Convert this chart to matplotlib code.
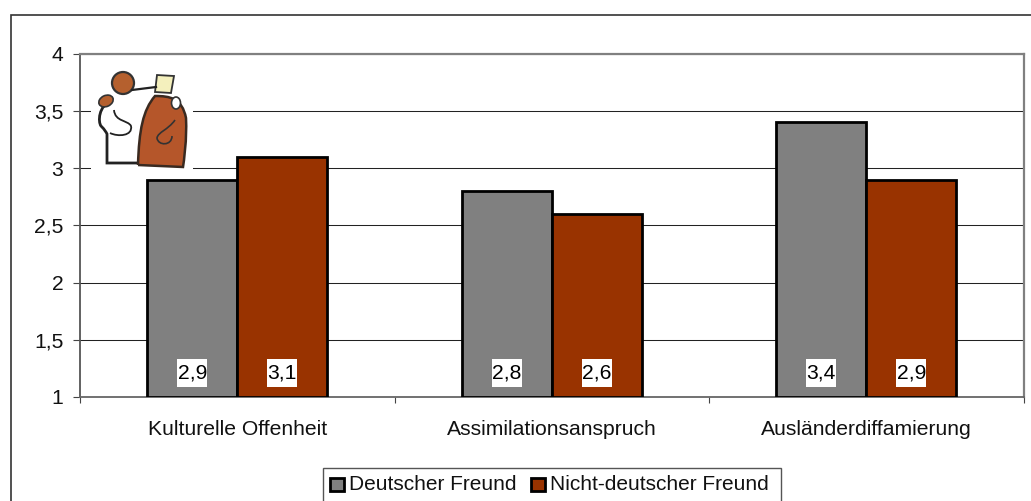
import matplotlib
matplotlib.use("Agg")
import matplotlib.pyplot as plt
from matplotlib.patches import Polygon, Circle, Rectangle, Ellipse, PathPatch
from matplotlib.path import Path

categories = ["Kulturelle Offenheit", "Assimilationsanspruch", "Ausländerdiffamierung"]
series_names = ["Deutscher Freund", "Nicht-deutscher Freund"]
deutscher = [2.9, 2.8, 3.4]
nicht_deutscher = [3.1, 2.6, 2.9]
y_ticks = [1, 1.5, 2, 2.5, 3, 3.5, 4]
y_labels = ["1", "1,5", "2", "2,5", "3", "3,5", "4"]

W, H = 1031, 501
plt.rcParams['font.family'] = ['Liberation Sans', 'DejaVu Sans']
fig = plt.figure(figsize=(W/100, H/100), dpi=100)
FS = 15.2

bg = fig.add_axes([0, 0, 1, 1], zorder=0)
bg.set_xlim(0, W); bg.set_ylim(H, 0); bg.axis('off')
bg.plot([10.5, 10.5, W], [H, 14.8, 14.8], color='#333333', lw=1.2, solid_joinstyle='miter')

L, R, T, B = 80.0, 1023.5, 53.8, 396.9
ax = fig.add_axes([L/W, 1-B/H, (R-L)/W, (B-T)/H], zorder=1)
ax.patch.set_alpha(0)
ax.set_xlim(0, 3)
ax.set_ylim(1, 4)
bw = 90/314.5
xs = [i + 0.5 for i in range(3)]
ax.yaxis.grid(True, color='#222222', lw=0.75)
ax.set_axisbelow(True)
ax.bar([x - bw/2 for x in xs], [v - 1 for v in deutscher], bw, bottom=1,
       color='#808080', edgecolor='black', lw=2.0, label=series_names[0], zorder=3)
ax.bar([x + bw/2 for x in xs], [v - 1 for v in nicht_deutscher], bw, bottom=1,
       color='#993300', edgecolor='black', lw=2.0, label=series_names[1], zorder=3)
box_w, box_h = 30/314.5, 28/114.4
for x, a, b in zip(xs, deutscher, nicht_deutscher):
    for off, v in ((-bw/2, a), (bw/2, b)):
        ax.add_patch(Rectangle((x + off - box_w/2, 1.205 - box_h/2), box_w, box_h,
                               fc='white', ec='none', zorder=4))
        ax.text(x + off, 1.205, f"{v:.1f}".replace('.', ','), ha='center', va='center',
                fontsize=FS, color='black', zorder=5)
ax.set_yticks(y_ticks); ax.set_yticklabels(y_labels, fontsize=FS, color='#111111')
ax.set_xticks([0, 1, 2, 3]); ax.set_xticklabels([])
ax.set_xticks(xs, minor=True); ax.set_xticklabels(categories, minor=True, fontsize=FS, color='#111111')
ax.tick_params(axis='x', which='minor', length=0, pad=16.5)
ax.tick_params(axis='x', which='major', length=4.5, width=0.8, color='#444444')
ax.tick_params(axis='y', length=5, width=0.8, color='#444444', pad=7)
ax.spines['left'].set_color('#555555'); ax.spines['left'].set_linewidth(1.3)
ax.spines['bottom'].set_color('#666666'); ax.spines['bottom'].set_linewidth(1.3)
ax.spines['top'].set_color('#808080'); ax.spines['top'].set_linewidth(1.6)
ax.spines['right'].set_color('#808080'); ax.spines['right'].set_linewidth(1.6)

ov = fig.add_axes([0, 0, 1, 1], zorder=2)
ov.set_xlim(0, W); ov.set_ylim(H, 0); ov.axis('off')
ov.add_patch(Rectangle((322.5, 467.5), 458.5, 40, fc='white', ec='#555555', lw=1.0))
ov.add_patch(Rectangle((330, 477.5), 13.5, 13.5, fc='#808080', ec='black', lw=2.0))
ov.add_patch(Rectangle((531, 477.5), 13.5, 13.5, fc='#993300', ec='black', lw=2.0))
ov.text(349, 485, series_names[0], fontsize=FS-0.2, va='center', ha='left', color='#111111')
ov.text(550, 485, series_names[1], fontsize=FS-0.2, va='center', ha='left', color='#111111')

# decorative icon: two embracing figures on a white patch that hides the gridlines
M, C, LN = Path.MOVETO, Path.CURVE4, Path.LINETO
ov.add_patch(Rectangle((91, 66), 102, 108, fc='white', ec='none'))
ov.add_patch(PathPatch(Path([(112, 100), (98, 106), (98, 122), (101, 126), (105, 130), (106, 132),
                            (107, 134), (107, 163), (138, 163)],
                           [M, C, C, C, C, C, C, LN, LN]),
                       fc='white', ec='#222222', lw=2.0))
ov.add_patch(PathPatch(Path([(138, 165), (139, 130), (143, 110), (155, 96), (170, 96), (182, 98),
                            (186, 118), (187, 140), (184, 160), (183, 167), (138, 165)],
                           [M, C, C, C, C, C, C, C, C, C, LN]),
                       fc='#b5562a', ec='#3a2a20', lw=1.8))
ov.plot([132, 156], [90, 87], color='#222222', lw=1.6)
ov.add_patch(Polygon([(157, 75), (174, 76), (171, 93), (155, 92)], closed=True, fc='#f4f0bd', ec='#333333', lw=1.3))
ov.add_patch(Circle((123, 83), 11, fc='#b5602e', ec='#333333', lw=1.6))
ov.add_patch(Ellipse((106, 101), 15, 11, angle=-25, fc='#b5602e', ec='#333333', lw=1.2))
ov.add_patch(Ellipse((176, 103), 9, 12, fc='white', ec='#333333', lw=1.2))
ov.add_patch(PathPatch(Path([(114, 110), (115, 122), (128, 120), (131, 126), (133, 136), (118, 137), (110, 133)],
                            [M, C, C, C, C, C, C]), fc='none', ec='#222222', lw=1.3))
ov.add_patch(PathPatch(Path([(175, 120), (168, 130), (158, 132), (157, 138), (158, 146), (172, 146), (172, 136)],
                            [M, C, C, C, C, C, C]), fc='none', ec='#333333', lw=1.2))

fig.savefig("out.png", dpi=100)
